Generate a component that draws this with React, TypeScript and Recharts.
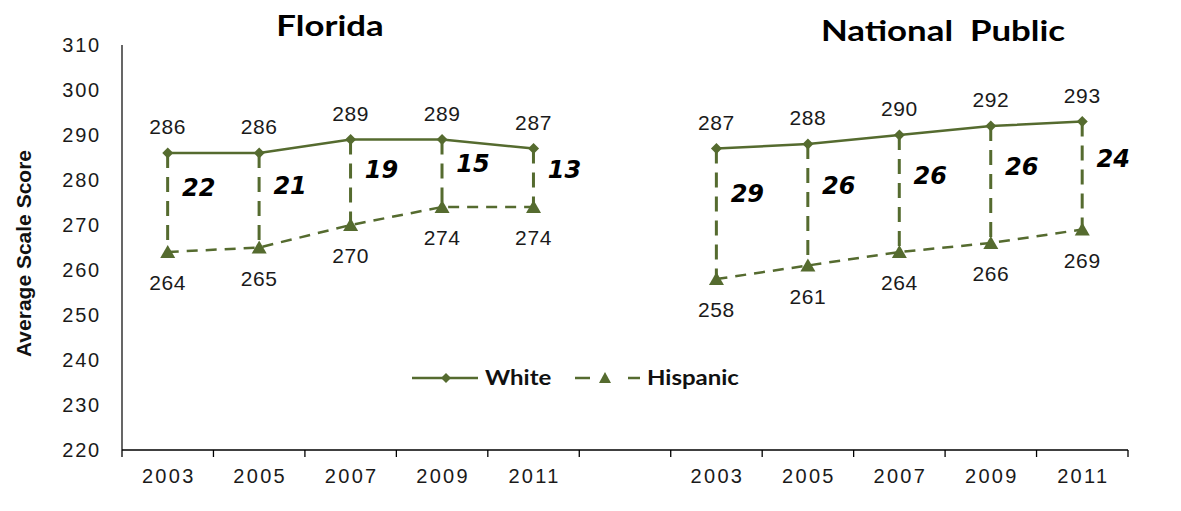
import React from "react";
import { ComposedChart, Line, Bar, XAxis, YAxis, LabelList, Legend } from "recharts";

const categories = ["2003", "2005", "2007", "2009", "2011", "", "2003", "2005", "2007", "2009", "2011"];
const whiteScores = [286, 286, 289, 289, 287, null, 287, 288, 290, 292, 293];
const hispanicScores = [264, 265, 270, 274, 274, null, 258, 261, 264, 266, 269];
const gapLabels = ["22", "21", "19", "15", "13", null, "29", "26", "26", "26", "24"];
const yTicks = [220, 230, 240, 250, 260, 270, 280, 290, 300, 310];
const titles = ["Florida", "National  Public"];
const seriesNames = ["White", "Hispanic"];

const data = categories.map((c, i) => ({
  year: c,
  white: whiteScores[i],
  hispanic: hispanicScores[i],
  gap: gapLabels[i],
  range: whiteScores[i] == null ? null : [hispanicScores[i], whiteScores[i]],
}));

const W = 1165;
const H = 495;
const MARGIN = { top: 37, right: 45, bottom: 15, left: 0 };
const YAXIS_W = 114;
const PLOT_W = W - MARGIN.left - MARGIN.right - YAXIS_W;
const BAND = PLOT_W / categories.length;
const GREEN = "#556B2F";
const TEXT = "#1a1a1a";
const NUM_FONT = "'Liberation Sans', Arial, sans-serif";
const TITLE_FONT = "Lato, 'Open Sans', sans-serif";

const XTick = (props: any) => {
  const { x, y, payload, index } = props;
  return (
    <g>
      <line x1={x - BAND / 2} x2={x - BAND / 2} y1={y} y2={y + 7} stroke="#000" strokeWidth={1.3} />
      {index === categories.length - 1 && (
        <line x1={x + BAND / 2} x2={x + BAND / 2} y1={y} y2={y + 7} stroke="#000" strokeWidth={1.3} />
      )}
      <text x={x + 1} y={y + 33} textAnchor="middle" fontFamily={NUM_FONT} fontSize={20} letterSpacing={2.3} fill={TEXT}>
        {payload.value}
      </text>
    </g>
  );
};

const YTick = (props: any) => {
  const { x, y, payload } = props;
  return (
    <text x={x - 21} y={y + 7} textAnchor="end" fontFamily={NUM_FONT} fontSize={20} letterSpacing={1.8} fill={TEXT}>
      {payload.value}
    </text>
  );
};

const GapShape = (props: any) => {
  const { x, y, width, height } = props;
  if (x == null || height == null || isNaN(height)) return null;
  const cx = x + width / 2;
  return (
    <line x1={cx} x2={cx} y1={y} y2={y + height} stroke={GREEN} strokeWidth={3} strokeDasharray="15 9" />
  );
};

const GapLabel = (props: any) => {
  const { x, y, width, height, value } = props;
  if (value == null) return null;
  const cx = x + width / 2 + 31;
  const cy = y + height * 0.33 + 10;
  return (
    <text x={cx} y={cy} textAnchor="middle" fontFamily="'DejaVu Sans', Verdana, sans-serif" fontSize={24} fontWeight="bold" fontStyle="italic" fill="#000">
      {value}
    </text>
  );
};

const TopLabel = (props: any) => {
  const { x, y, value } = props;
  if (value == null) return null;
  return (
    <text x={x} y={y - 19} textAnchor="middle" fontFamily={NUM_FONT} fontSize={21} letterSpacing={0.6} fill={TEXT}>
      {value}
    </text>
  );
};

const BottomLabel = (props: any) => {
  const { x, y, value } = props;
  if (value == null) return null;
  return (
    <text x={x} y={y + 38} textAnchor="middle" fontFamily={NUM_FONT} fontSize={21} letterSpacing={0.6} fill={TEXT}>
      {value}
    </text>
  );
};

const Diamond = (props: any) => {
  const { cx, cy } = props;
  if (cx == null || cy == null) return null;
  return <path d={`M${cx},${cy - 5.5} L${cx + 5.5},${cy} L${cx},${cy + 5.5} L${cx - 5.5},${cy} Z`} fill={GREEN} />;
};

const Triangle = (props: any) => {
  const { cx, cy } = props;
  if (cx == null || cy == null) return null;
  return <path d={`M${cx},${cy - 7} L${cx + 7.5},${cy + 6} L${cx - 7.5},${cy + 6} Z`} fill={GREEN} />;
};

const LegendContent = () => (
  <svg width={360} height={26} style={{ display: "block" }}>
    <line x1={0} x2={66} y1={12} y2={12} stroke={GREEN} strokeWidth={2.5} />
    <path d="M34,7 L39,12 L34,17 L29,12 Z" fill={GREEN} />
    <text transform="translate(73,19) scale(1.2,1)" fontFamily={TITLE_FONT} fontWeight="bold" fontSize={20} fill="#111">{seriesNames[0]}</text>
    <line x1={163} x2={178} y1={12} y2={12} stroke={GREEN} strokeWidth={2.5} />
    <path d="M193,6 L199,17 L187,17 Z" fill={GREEN} />
    <line x1={216} x2={228} y1={12} y2={12} stroke={GREEN} strokeWidth={2.5} />
    <text transform="translate(235,19) scale(1.2,1)" fontFamily={TITLE_FONT} fontWeight="bold" fontSize={20} fill="#111">{seriesNames[1]}</text>
  </svg>
);

const titleStyle: React.CSSProperties = {
  position: "absolute",
  textAlign: "center",
  fontFamily: TITLE_FONT,
  fontWeight: "bold",
  fontSize: 29,
  lineHeight: "34px",
  color: "#000",
  whiteSpace: "pre",
  transform: "scaleX(1.2)",
  zIndex: 2,
};

export default function App() {
  return (
    <div style={{ position: "relative", width: W, height: H, background: "#fff" }}>
      <div style={{ ...titleStyle, left: 322 - 120, width: 240, top: 0 }}>{titles[0]}</div>
      <div style={{ ...titleStyle, left: 935 - 150, width: 300, top: 5 }}>{titles[1]}</div>
      <ComposedChart width={W} height={H} data={data} margin={MARGIN}>
        <XAxis
          dataKey="year"
          interval={0}
          tickLine={false}
          tickSize={0}
          tickMargin={0}
          axisLine={{ stroke: "#000", strokeWidth: 1.5 }}
          tick={<XTick />}
          height={38}
        />
        <YAxis
          domain={[220, 310]}
          ticks={yTicks}
          interval={0}
          width={YAXIS_W}
          tickLine={false}
          tickSize={0}
          tickMargin={0}
          axisLine={{ stroke: "#000", strokeWidth: 1.2 }}
          tick={<YTick />}
          label={(p: any) => {
            const vb = p.viewBox;
            const cx = vb.x + 17;
            const cy = vb.y + vb.height / 2 + 6;
            return (
              <text x={cx} y={cy} transform={`rotate(-90 ${cx} ${cy})`} textAnchor="middle" dominantBaseline="middle" fontFamily={NUM_FONT} fontWeight="bold" fontSize={21} fill="#111">
                Average Scale Score
              </text>
            );
          }}
        />
        <Legend
          layout="horizontal"
          align="center"
          verticalAlign="middle"
          content={<LegendContent />}
          wrapperStyle={{ position: "absolute", left: 404, top: 358, width: 360, height: 26 }}
        />
        <Bar dataKey="range" shape={<GapShape />} isAnimationActive={false} legendType="none">
          <LabelList dataKey="gap" content={<GapLabel />} />
        </Bar>
        <Line
          dataKey="white"
          name={seriesNames[0]}
          stroke={GREEN}
          strokeWidth={2.5}
          dot={<Diamond />}
          activeDot={false}
          isAnimationActive={false}
          connectNulls={false}
        >
          <LabelList dataKey="white" content={<TopLabel />} />
        </Line>
        <Line
          dataKey="hispanic"
          name={seriesNames[1]}
          stroke={GREEN}
          strokeWidth={2.5}
          strokeDasharray="11 8"
          dot={<Triangle />}
          activeDot={false}
          isAnimationActive={false}
          connectNulls={false}
        >
          <LabelList dataKey="hispanic" content={<BottomLabel />} />
        </Line>
      </ComposedChart>
    </div>
  );
}
